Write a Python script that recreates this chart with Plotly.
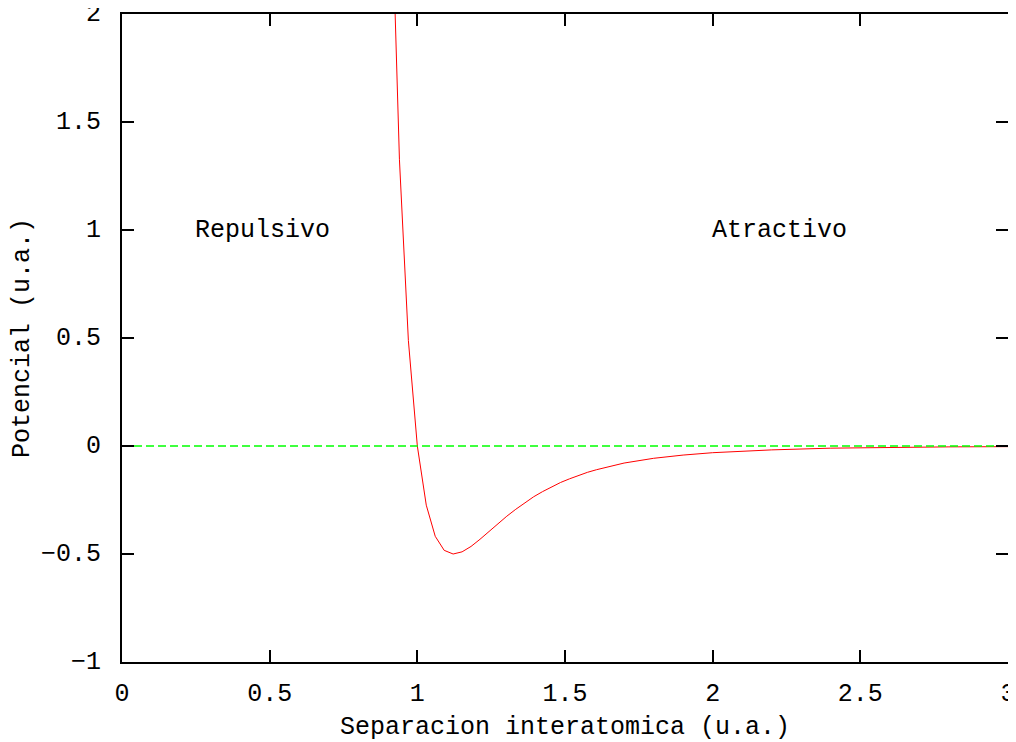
import plotly.graph_objects as go

# Potential curve samples
r_vals = [0.9091, 0.9394, 0.9697, 1.0000, 1.0303, 1.0606, 1.0909, 1.1212, 1.1515,
          1.1818, 1.2121, 1.2424, 1.2727, 1.3030, 1.3333, 1.3636, 1.3939, 1.4242,
          1.4545, 1.4848, 1.5152, 1.5455, 1.5758, 1.6061, 1.6364, 1.6667, 1.7,
          1.8, 1.9, 2.0, 2.2, 2.4, 2.6, 2.8, 3.0]
v_vals = [2.734, 1.325, 0.488, 0.0, -0.274, -0.418, -0.483, -0.500, -0.490,
          -0.465, -0.432, -0.396, -0.360, -0.325, -0.293, -0.263, -0.235, -0.211,
          -0.189, -0.169, -0.152, -0.136, -0.122, -0.110, -0.099, -0.089, -0.079,
          -0.057, -0.042, -0.031, -0.018, -0.010, -0.006, -0.004, -0.003]

zero_x = [0, 3]
zero_y = [0, 0]

x_ticks = [0, 0.5, 1, 1.5, 2, 2.5, 3]
x_tick_text = ["0", "0.5", "1", "1.5", "2", "2.5", "3"]
y_ticks = [-1, -0.5, 0, 0.5, 1, 1.5, 2]
y_tick_text = ["\u22121", "\u22120.5", "0", "0.5", "1", "1.5", "2"]

labels = ["Repulsivo", "Atractivo"]
label_x = [0.25, 2.0]
label_y = [1, 1]

FONT = "Liberation Mono, Courier New, monospace"
FS = 25

fig = go.Figure()
fig.add_trace(go.Scatter(x=r_vals, y=v_vals, mode="lines",
                         line=dict(color="#ff0000", width=1), showlegend=False))
fig.add_trace(go.Scatter(x=zero_x, y=zero_y, mode="lines",
                         line=dict(color="#00ff00", width=1.3, dash="8px,4px"),
                         showlegend=False))

for t, x, y in zip(labels, label_x, label_y):
    fig.add_annotation(x=x, y=y, text=t, showarrow=False, xanchor="left",
                       yanchor="middle", xshift=-3,
                       font=dict(family=FONT, size=FS, color="black"))

axis_common = dict(showgrid=False, zeroline=False, showline=True, linecolor="black",
                   linewidth=2, mirror="allticks", ticks="inside", ticklen=12,
                   tickwidth=1.5, tickcolor="black", ticklabeloverflow="allow",
                   tickfont=dict(family=FONT, size=FS, color="black"))

fig.update_xaxes(range=[0, 3], tickvals=x_ticks, ticktext=x_tick_text,
                 title=dict(text="Separacion interatomica (u.a.)",
                            font=dict(family=FONT, size=FS, color="black"), standoff=10),
                 ticklabelstandoff=7, **axis_common)
fig.update_yaxes(range=[-1, 2], tickvals=y_ticks, ticktext=y_tick_text,
                 title=dict(text="Potencial (u.a.)",
                            font=dict(family=FONT, size=FS, color="black"), standoff=5),
                 ticklabelstandoff=14, ticklabelshift=-2, **axis_common)

# page body has an 8px margin, so the figure is offset by (8, 8)
fig.update_layout(width=1008, height=734, plot_bgcolor="white", paper_bgcolor="white",
                  margin=dict(l=114, r=8, t=6, b=80, autoexpand=False))

fig.write_html("out.html")
